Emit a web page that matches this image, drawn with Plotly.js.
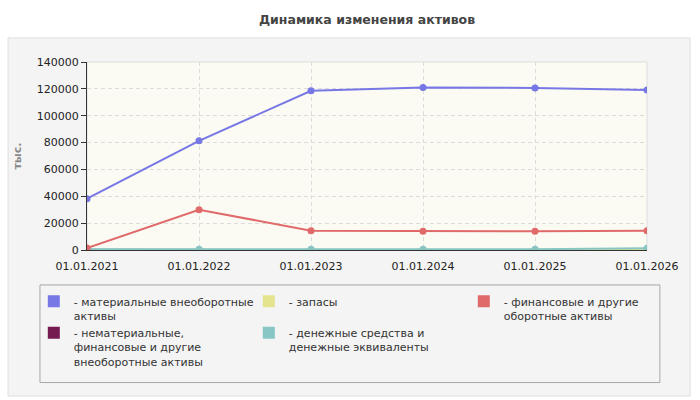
<!DOCTYPE html>
<html>
<head>
<meta charset="utf-8">
<script src="https://cdn.plot.ly/plotly-3.0.1.min.js"></script>
<style>
  html, body { margin: 0; padding: 0; background: #fff; }
  #chart { width: 700px; height: 400px; }
</style>
</head>
<body>
<div id="chart"></div>
<script>
// dates on the x axis
var dates = ['01.01.2021', '01.01.2022', '01.01.2023', '01.01.2024', '01.01.2025', '01.01.2026'];

// series, thousand roubles
var tangible = [38200, 81300, 118600, 121100, 120700, 119200];
var intangible = [100, 80, 80, 80, 80, 80];
var stocks = [200, 150, 200, 250, 250, 700];
var cash = [600, 500, 600, 500, 600, 1300];
var financial = [1500, 30000, 14400, 13900, 13900, 14400];

var names = {
  tangible: '- материальные внеоборотные<br>активы',
  intangible: '- нематериальные,<br>финансовые и другие<br>внеоборотные активы',
  stocks: '- запасы',
  cash: '- денежные средства и<br>денежные эквиваленты',
  financial: '- финансовые и другие<br>оборотные активы'
};

var colors = {
  tangible: '#7777e6',
  intangible: '#761a52',
  stocks: '#e4e48e',
  cash: '#86c6c4',
  financial: '#e06a6a'
};

function line(key, values) {
  return {
    x: dates, y: values, type: 'scatter', mode: 'lines+markers',
    name: names[key], showlegend: false, hoverinfo: 'x+y',
    line: {color: colors[key], width: 2},
    marker: {color: colors[key], size: 7}
  };
}

// zero-height bars, only there to give the legend a colour swatch
function swatch(key, rank) {
  return {
    x: [dates[0]], y: [0], type: 'bar', name: names[key], legendrank: rank,
    hoverinfo: 'skip',
    marker: {color: colors[key], line: {width: 0}}
  };
}

var traces = [
  swatch('tangible', 1),
  swatch('stocks', 2),
  swatch('financial', 3),
  swatch('intangible', 4),
  swatch('cash', 5),
  line('intangible', intangible),
  line('stocks', stocks),
  line('cash', cash),
  line('financial', financial),
  line('tangible', tangible)
];

var font = 'DejaVu Sans, Verdana, sans-serif';

var layout = {
  width: 700, height: 400,
  margin: {l: 87, r: 53, t: 62, b: 150, autoexpand: false},
  paper_bgcolor: '#ffffff',
  plot_bgcolor: 'rgba(0,0,0,0)',
  font: {family: font, size: 11, color: '#222'},
  title: {
    text: '<b>Динамика изменения активов</b>',
    font: {family: font, size: 12.5, color: '#444'},
    x: 0.5, xref: 'paper', xanchor: 'center', y: 0.95, yanchor: 'middle'
  },
  xaxis: {
    type: 'category', range: [0, 5],
    showgrid: true, gridcolor: '#dcdcdc', griddash: '4px,3px', gridwidth: 1,
    showline: true, linecolor: '#333', linewidth: 1,
    ticks: '', ticklabelstandoff: 6, tickfont: {size: 11, color: '#222'},
    zeroline: false, fixedrange: true
  },
  yaxis: {
    range: [0, 140000], dtick: 20000, tickformat: 'd',
    showgrid: true, gridcolor: '#dcdcdc', griddash: '4px,3px', gridwidth: 1,
    showline: true, linecolor: '#333', linewidth: 1,
    ticks: 'outside', ticklen: 5, tickcolor: '#333',
    tickfont: {size: 11, color: '#222'},
    zeroline: false, fixedrange: true,
    title: {text: '<b>тыс.</b>', font: {size: 11, color: '#888'}, standoff: 12}
  },
  legend: {
    orientation: 'h', traceorder: 'normal',
    x: -0.095, xanchor: 'left', y: -0.2, yanchor: 'top',
    entrywidth: 170, itemwidth: 30,
    bgcolor: 'rgba(0,0,0,0)', borderwidth: 0,
    font: {family: font, size: 11, color: '#333'}, valign: 'top'
  },
  shapes: [
    // grey panel behind the chart
    {type: 'rect', xref: 'paper', yref: 'paper', x0: -0.141, x1: 1.077, y0: -0.777, y1: 1.128,
     fillcolor: '#f4f4f4', line: {color: '#dedede', width: 1}, layer: 'below'},
    // pale plot area with a light frame
    {type: 'rect', xref: 'paper', yref: 'paper', x0: 0, x1: 1, y0: 0, y1: 1,
     fillcolor: '#fbfbf4', line: {color: '#dddddd', width: 1}, layer: 'below'},
    // legend box
    {type: 'rect', xref: 'paper', yref: 'paper', x0: -0.084, x1: 1.023, y0: -0.705, y1: -0.186,
     fillcolor: 'rgba(0,0,0,0)', line: {color: '#a8a8a8', width: 1}, layer: 'above'}
  ]
};

Plotly.newPlot('chart', traces, layout, {displayModeBar: false, staticPlot: true});
</script>
</body>
</html>
